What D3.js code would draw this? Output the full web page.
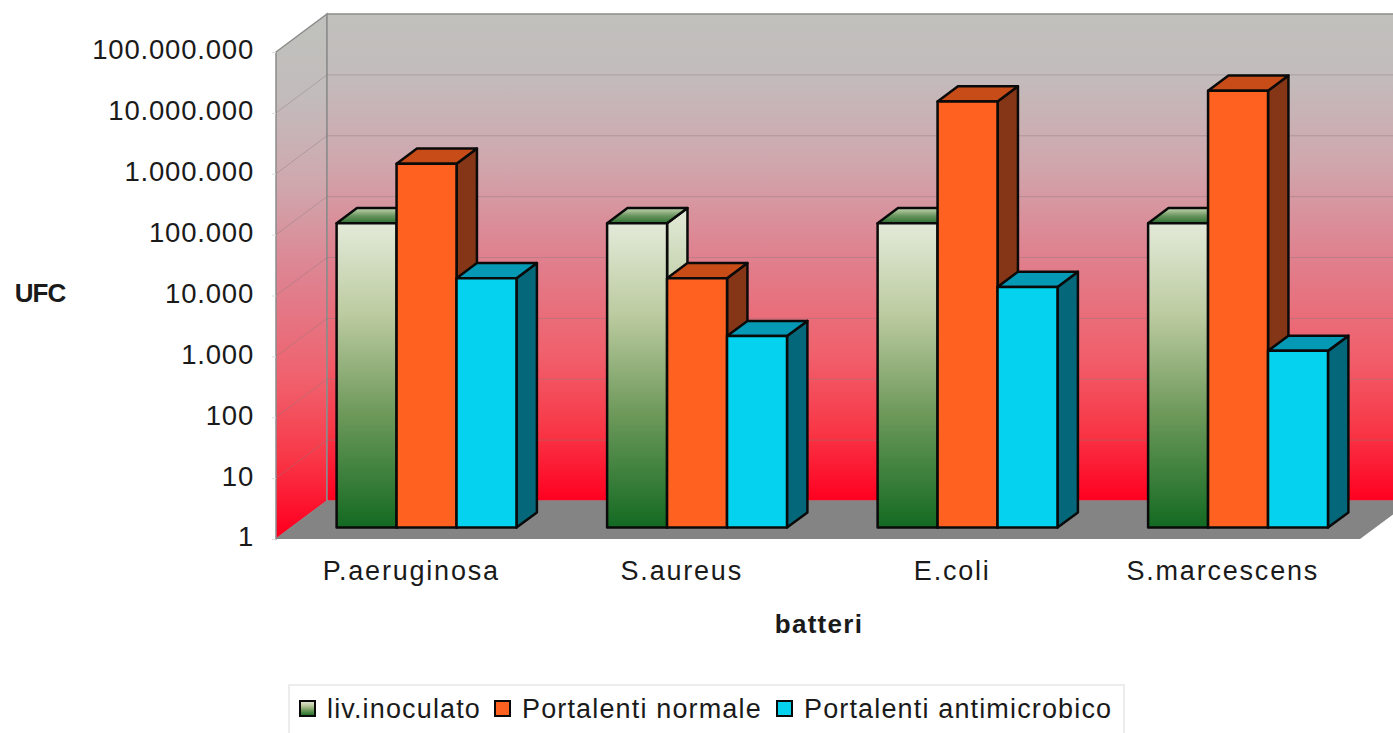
<!DOCTYPE html>
<html>
<head>
<meta charset="utf-8">
<script src="https://cdn.jsdelivr.net/npm/d3@7"></script>
<style>
    html, body { margin: 0; padding: 0; background: #fff; }
    svg { display: block; }
    text { font-family: "Liberation Sans", Arial, sans-serif; fill: #1a1a1a; }
</style>
</head>
<body>
<div id="chart"></div>
<script>
const categories = ["P.aeruginosa", "S.aureus", "E.coli", "S.marcescens"]
const seriesNames = ["liv.inoculato", "Portalenti normale", "Portalenti antimicrobico"]
const livInoculato = [100000, 100000, 100000, 100000]
const portalentiNormale = [950000, 12500, 10000000, 15000000]
const portalentiAntimicrobico = [12500, 1400, 9000, 800]
const tickValues = [1, 10, 100, 1000, 10000, 100000, 1000000, 10000000, 100000000]

const seriesValues = [livInoculato, portalentiNormale, portalentiAntimicrobico]

const width = 1393, height = 733
const depthX = 51, depthY = 38

const svg = d3.select('#chart').append('svg')
    .attr('width', width)
    .attr('height', height)

const x = d3.scaleBand().domain(categories).range([276, 1358]).paddingInner(0.335).paddingOuter(0.1675)
const xSeries = d3.scaleBand().domain(d3.range(3)).range([0, x.bandwidth()])
const y = d3.scaleLog().domain([1, 100000000]).range([539, 52])

const fmt = d3.formatLocale({ decimal: ",", thousands: ".", grouping: [3], currency: ["", ""] }).format(",d")

// gradients
const defs = svg.append('defs')
function gradient(id, stops, attrs) {
    const g = defs.append('linearGradient').attr('id', id)
        .attr('x1', 0).attr('y1', 0).attr('x2', 0).attr('y2', 1)
    if (attrs) {
        g.attr('gradientUnits', 'userSpaceOnUse')
            .attr('y1', attrs[0]).attr('y2', attrs[1])
    }
    stops.forEach(s => g.append('stop').attr('offset', s[0]).attr('stop-color', s[1]))
}
const wallStops = [
    [0, '#c0c0bc'], [0.12, '#c2bcbc'], [0.3, '#cfa8ae'], [0.5, '#e0808e'],
    [0.7, '#f0606c'], [0.85, '#f83848'], [1, '#ff0020']
]
gradient('wallBack', wallStops, [y(100000000) - depthY, y(1) - depthY])
gradient('wallSide', wallStops, [y(100000000) - depthY * 0.5, y(1) - depthY * 0.2])
const livStops = [[0, '#e3ead9'], [0.3, '#bccba0'], [0.62, '#6f9a5c'], [1, '#136a22']]
gradient('livFront', livStops)
gradient('livSide', livStops)
gradient('livTop', [[0, '#c8d8b4'], [0.5, '#6b9660'], [1, '#2c7030']])

const fronts = ['url(#livFront)', '#ff6120', '#04d2ee']
const sides = ['url(#livSide)', '#853616', '#05687a']
const tops = ['url(#livTop)', '#c84c18', '#0599b5']

const pts = a => a.map(p => p.join(',')).join(' ')

// walls
const x0 = 276, x1 = 1360
const yTop = y(100000000), yBottom = y(1)

svg.append('polygon')
    .attr('points', pts([[x0, yTop], [x0 + depthX, yTop - depthY], [x0 + depthX, yBottom - depthY], [x0, yBottom]]))
    .attr('fill', 'url(#wallSide)')
    .attr('stroke', '#8c8c8c')
    .attr('stroke-width', 1.5)
svg.append('polygon')
    .attr('points', pts([[x0 + depthX, yTop - depthY], [x1 + depthX, yTop - depthY], [x1 + depthX, yBottom - depthY], [x0 + depthX, yBottom - depthY]]))
    .attr('fill', 'url(#wallBack)')
    .attr('stroke', '#8c8c8c')
    .attr('stroke-width', 1.5)

// gridlines
const grid = svg.append('g')
    .attr('stroke', '#8a7a7c')
    .attr('stroke-opacity', 0.42)
    .attr('stroke-width', 1)
grid.selectAll('.back')
    .data(tickValues.slice(1, -1))
    .enter()
    .append('line')
    .attr('x1', x0 + depthX).attr('x2', x1 + depthX)
    .attr('y1', d => y(d) - depthY).attr('y2', d => y(d) - depthY)
grid.selectAll('.side')
    .data(tickValues.slice(1, -1))
    .enter()
    .append('line')
    .attr('x1', x0).attr('x2', x0 + depthX)
    .attr('y1', d => y(d)).attr('y2', d => y(d) - depthY)

// floor
svg.append('polygon')
    .attr('points', pts([[x0, yBottom], [x1, yBottom], [x1 + depthX, yBottom - depthY], [x0 + depthX, yBottom - depthY]]))
    .attr('fill', '#848484')

// bars, left to right so later fronts cover earlier sides
const barNear = 0.3, barFar = 0.7
const bars = svg.append('g')
    .attr('stroke', '#0a0a0a')
    .attr('stroke-width', 2.5)
    .attr('stroke-linejoin', 'round')

categories.forEach((cat, c) => {
    seriesValues.forEach((vals, s) => {
        const left = x(cat) + xSeries(s)
        const right = left + xSeries.bandwidth()
        const dn = [barNear * depthX, -barNear * depthY]
        const df = [barFar * depthX, -barFar * depthY]
        const t = y(vals[c]), b = y(1)
        const g = bars.append('g')
        g.append('polygon')
            .attr('points', pts([[right + dn[0], t + dn[1]], [right + df[0], t + df[1]], [right + df[0], b + df[1]], [right + dn[0], b + dn[1]]]))
            .attr('fill', sides[s])
        g.append('polygon')
            .attr('points', pts([[left + dn[0], t + dn[1]], [left + df[0], t + df[1]], [right + df[0], t + df[1]], [right + dn[0], t + dn[1]]]))
            .attr('fill', tops[s])
        g.append('rect')
            .attr('x', left + dn[0])
            .attr('y', t + dn[1])
            .attr('width', right - left)
            .attr('height', b - t)
            .attr('fill', fronts[s])
    })
})

// axes
const yAxis = svg.append('g')
    .attr('transform', `translate(${x0},0)`)
    .call(d3.axisLeft(y).tickValues(tickValues).tickFormat(fmt).tickSize(4).tickPadding(18))
yAxis.select('.domain').remove()
yAxis.selectAll('line').attr('stroke', '#dddddd')
yAxis.selectAll('text')
    .attr('font-size', 27.5)
    .attr('letter-spacing', 0.8)
    .attr('dy', '0.25em')
    .style('font-family', '"Liberation Sans", Arial, sans-serif')
    .style('fill', '#1a1a1a')

const xAxis = svg.append('g')
    .attr('transform', `translate(0,${yBottom})`)
    .call(d3.axisBottom(x).tickSize(0).tickPadding(22))
xAxis.select('.domain').remove()
xAxis.selectAll('text')
    .attr('font-size', 27)
    .attr('letter-spacing', 1.8)
    .style('font-family', '"Liberation Sans", Arial, sans-serif')
    .style('fill', '#1a1a1a')

svg.append('text')
    .attr('x', 40).attr('y', 302)
    .attr('text-anchor', 'middle')
    .attr('font-size', 26)
    .attr('font-weight', 'bold')
    .attr('letter-spacing', -1)
    .text('UFC')
svg.append('text')
    .attr('x', 819).attr('y', 633)
    .attr('text-anchor', 'middle')
    .attr('font-size', 26)
    .attr('font-weight', 'bold')
    .attr('letter-spacing', 1.3)
    .text('batteri')

// legend
const legendX = [300, 495, 777]
const legend = svg.append('g')
legend.append('rect')
    .attr('x', 289).attr('y', 685)
    .attr('width', 835).attr('height', 60)
    .attr('fill', '#fff')
    .attr('stroke', '#e6e6e6')
    .attr('stroke-width', 1.5)
const item = legend.selectAll('.item')
    .data(seriesNames)
    .enter()
    .append('g')
    .attr('transform', (d, i) => `translate(${legendX[i]},701)`)
item.append('rect')
    .attr('width', 15).attr('height', 15)
    .attr('fill', (d, i) => fronts[i])
    .attr('stroke', '#0a0a0a')
    .attr('stroke-width', 2)
item.append('text')
    .attr('x', 27).attr('y', 17)
    .attr('font-size', 27)
    .attr('letter-spacing', 1.15)
    .text(d => d)
</script>
</body>
</html>
